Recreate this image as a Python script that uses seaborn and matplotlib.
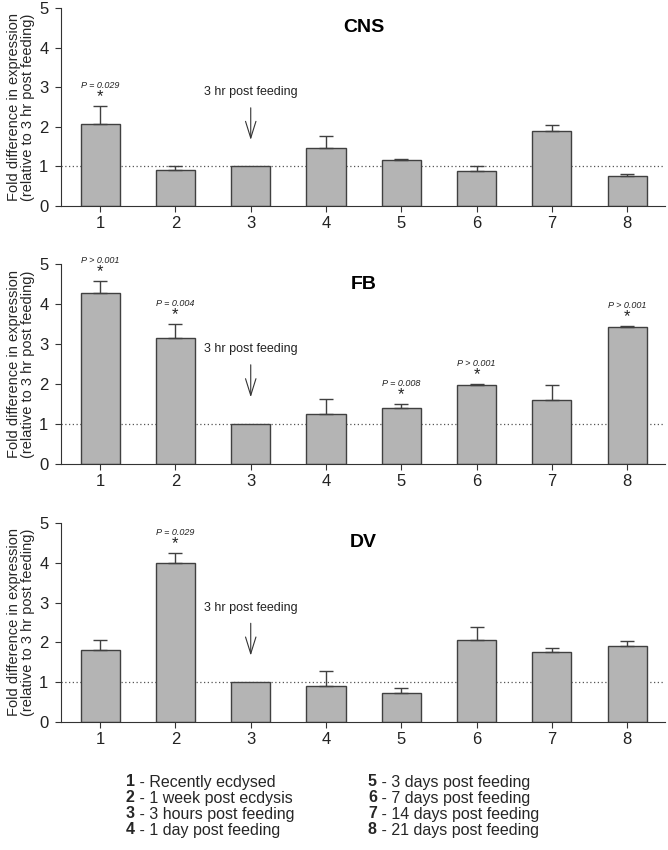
import numpy as np
import pandas as pd
import matplotlib
matplotlib.use("Agg")
import matplotlib.pyplot as plt
import seaborn as sns

sns.set_theme(style="white")
plt.rcParams['font.family'] = ['Liberation Sans', 'DejaVu Sans']

# --- datos ---
groups = ['1', '2', '3', '4', '5', '6', '7', '8']

cns_mean = [2.08, 0.92, 1.00, 1.47, 1.16, 0.88, 1.90, 0.75]
cns_err = [0.45, 0.08, 0.00, 0.30, 0.04, 0.12, 0.15, 0.06]

fb_mean = [4.27, 3.15, 1.00, 1.25, 1.41, 1.98, 1.61, 3.42]
fb_err = [0.30, 0.35, 0.00, 0.38, 0.09, 0.02, 0.37, 0.03]

dv_mean = [1.82, 4.00, 1.00, 0.91, 0.73, 2.05, 1.76, 1.91]
dv_err = [0.24, 0.24, 0.00, 0.36, 0.13, 0.34, 0.10, 0.13]

# anotaciones de significancia: (grupo, texto)
cns_sig = [('1', 'P = 0.029')]
fb_sig = [('1', 'P > 0.001'), ('2', 'P = 0.004'), ('5', 'P = 0.008'),
          ('6', 'P > 0.001'), ('8', 'P > 0.001')]
dv_sig = [('2', 'P = 0.029')]

legend_left = ['Recently ecdysed', '1 week post ecdysis',
               '3 hours post feeding', '1 day post feeding']
legend_right = ['3 days post feeding', '7 days post feeding',
                '14 days post feeding', '21 days post feeding']

paneles = [
    ('CNS', cns_mean, cns_err, cns_sig),
    ('FB', fb_mean, fb_err, fb_sig),
    ('DV', dv_mean, dv_err, dv_sig),
]

fig = plt.figure(figsize=(6.68, 8.5), dpi=100)
# posiciones de los ejes (fracción de figura)
rects = [
    [0.0913, 0.7576, 0.904, 0.2330],
    [0.0913, 0.4541, 0.904, 0.2353],
    [0.0913, 0.1506, 0.904, 0.2341],
]

bar_color = '#b4b4b4'
edge_color = '#404040'

for (titulo, medias, errores, sig), rect in zip(paneles, rects):
    ax = fig.add_axes(rect)
    df = pd.DataFrame({'grupo': groups, 'valor': medias, 'err': errores})

    sns.barplot(data=df, x='grupo', y='valor', order=groups, ax=ax,
                color=bar_color, saturation=1, width=0.52,
                edgecolor=edge_color, linewidth=1.0, errorbar=None)

    # barras de error solo hacia arriba
    pos = np.arange(len(groups))
    mask = df['err'].values > 0
    ax.errorbar(pos[mask], df['valor'].values[mask],
                yerr=[np.zeros(mask.sum()), df['err'].values[mask]],
                fmt='none', ecolor=edge_color, elinewidth=1.0,
                capsize=5, capthick=1.0, zorder=1)

    ax.axhline(1, ls=(0, (1, 2)), color='#555555', lw=0.9, zorder=0)

    # significancia
    for g, txt in sig:
        i = groups.index(g)
        top = df['valor'][i] + df['err'][i]
        ax.text(i, top + 0.05, '*', ha='center', va='bottom',
                fontsize=12, color='#222222')
        ax.text(i, top + 0.40, txt, ha='center', va='bottom',
                fontsize=6.5, style='italic', color='#222222')

    # flecha de referencia
    ref = groups.index('3')
    ax.annotate('', xy=(ref, 1.6), xytext=(ref, 2.55),
                arrowprops=dict(arrowstyle='->,head_length=0.8,head_width=0.25',
                                mutation_scale=15, color='#333333', lw=0.8))
    ax.text(ref, 2.72, '3 hr post feeding', ha='center', va='bottom',
            fontsize=9, color='#222222')

    ax.text(3.5, 4.5, titulo, ha='center', va='center',
            fontsize=14, fontweight='bold', color='black')

    ax.set_xlim(-0.52, 7.5)
    ax.set_ylim(0, 5)
    ax.set_yticks([0, 1, 2, 3, 4, 5])
    ax.set_xlabel('')
    ax.set_ylabel('Fold difference in expression\n(relative to 3 hr post feeding)',
                  fontsize=10.5, labelpad=3, linespacing=1.0)
    ax.tick_params(axis='both', direction='out', length=4, width=0.8,
                   colors='#333333', labelsize=12, labelcolor='#222222',
                   left=True, bottom=True)
    ax.tick_params(axis='y', pad=5)
    for s in ['top', 'right']:
        ax.spines[s].set_visible(False)
    for s in ['left', 'bottom']:
        ax.spines[s].set_color('#333333')
        ax.spines[s].set_linewidth(0.8)

# leyenda inferior
y0 = 1 - 782 / 850
dy = 16 / 850
for k, txt in enumerate(legend_left):
    y = y0 - k * dy
    fig.text(126 / 668, y, f'{k + 1}', fontsize=11.5, fontweight='bold', va='center')
    fig.text(135 / 668, y, f' - {txt}', fontsize=11.5, va='center')
for k, txt in enumerate(legend_right):
    y = y0 - k * dy
    fig.text(368 / 668, y, f'{k + 5}', fontsize=11.5, fontweight='bold', va='center')
    fig.text(377 / 668, y, f' - {txt}', fontsize=11.5, va='center')

fig.savefig('out.png', dpi=100)
